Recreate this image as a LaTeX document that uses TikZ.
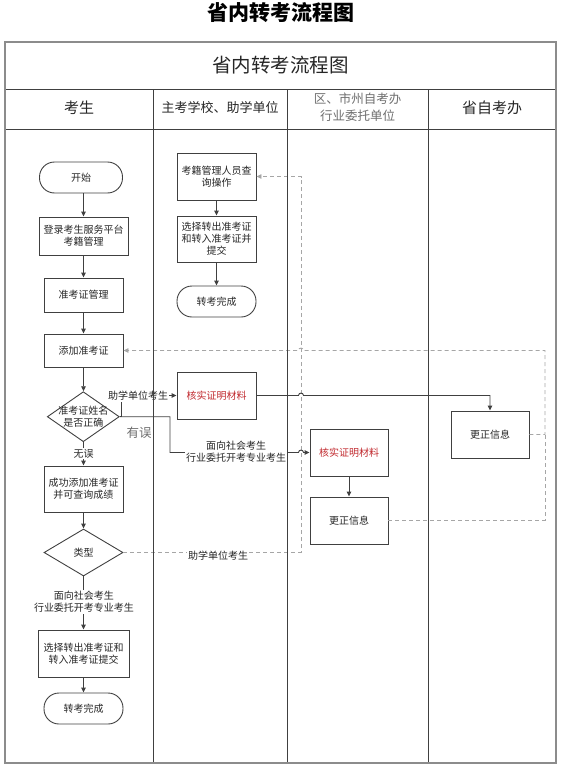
\documentclass[tikz,border=0pt]{standalone}
\usepackage{fontspec}
\setmainfont{Noto Sans CJK SC}
\usetikzlibrary{shapes.geometric,arrows.meta}
\definecolor{lineC}{HTML}{404040}
\definecolor{frameC}{HTML}{8C8C8C}
\definecolor{dashC}{HTML}{A6A6A6}
\definecolor{redT}{HTML}{C0282D}
\definecolor{txtC}{HTML}{262626}
\definecolor{grayT}{HTML}{6E6E6E}
\begin{document}
\begin{tikzpicture}[x=1pt,y=-1pt,
  every node/.style={font=\fontsize{10}{12}\selectfont, text=txtC, align=center},
  procbox/.style={draw=lineC, line width=0.9pt, rectangle, inner sep=0pt},
  termbox/.style={draw=lineC, line width=0.9pt, rectangle, rounded corners=15pt, minimum height=31pt, inner sep=0pt},
  decbox/.style={draw=lineC, line width=0.9pt, diamond, inner sep=0pt},
  flow/.style={draw=lineC, line width=0.9pt, -{Triangle[length=5pt,width=4.5pt]}},
  dline/.style={draw=dashC, line width=0.9pt, dash pattern=on 4pt off 3pt},
  dflow/.style={dline, -{Triangle[length=5pt,width=4.5pt]}, color=dashC},
  lbl/.style={fill=white, inner sep=1pt},
  framec/.style={draw=frameC, line width=1.6pt},
  colline/.style={draw=lineC, line width=0.9pt}
]
\useasboundingbox (0,0) rectangle (561,768);

% titles
\node[font=\fontsize{21}{24}\selectfont\bfseries, text=black] (maintitle) at (280.5,12.5) {省内转考流程图};
\node[font=\fontsize{19.5}{22}\selectfont] (innertitle) at (280.5,65.5) {省内转考流程图};

% headers
\node[font=\fontsize{15}{18}\selectfont] (h1) at (79,108) {考生};
\node[font=\fontsize{13}{16}\selectfont] (h2) at (220,108) {主考学校、助学单位};
\node[font=\fontsize{12.5}{17}\selectfont, text=grayT] (h3) at (357.5,107.5) {区、市州自考办\\行业委托单位};
\node[font=\fontsize{15}{18}\selectfont] (h4) at (492,108) {省自考办};

% column 1
\node[termbox, minimum width=83pt] (start) at (81,177.5) {开始};
\node[procbox, minimum width=89pt, minimum height=38pt] (login) at (83.5,236) {登录考生服务平台\\考籍管理};
\node[procbox, minimum width=79pt, minimum height=34pt] (zkz) at (83.5,295) {准考证管理};
\node[procbox, minimum width=79pt, minimum height=33pt] (add) at (83.5,350.5) {添加准考证};
\node[decbox, minimum width=72pt, minimum height=50pt,
  label={[align=center, font=\fontsize{10}{12}\selectfont, text=txtC]center:准考证姓名\\是否正确}] (d1) at (83.3,416.7) {};
\node[procbox, minimum width=79pt, minimum height=46pt] (succ) at (83.5,489) {成功添加准考证\\并可查询成绩};
\node[decbox, minimum width=79pt, minimum height=47pt] (d2) at (83.5,552.5) {类型};
\node[procbox, minimum width=91pt, minimum height=47pt] (sel) at (83.5,653.5) {选择转出准考证和\\转入准考证提交};
\node[termbox, minimum width=79pt] (fin1) at (83.5,708.5) {转考完成};

% column 2
\node[procbox, minimum width=79pt, minimum height=47pt] (k1) at (216.5,176.5) {考籍管理人员查\\询操作};
\node[procbox, minimum width=79pt, minimum height=46pt] (k2) at (216.5,239) {选择转出准考证\\和转入准考证并\\提交};
\node[termbox, minimum width=79pt] (fin2) at (216.5,301.5) {转考完成};
\node[procbox, minimum width=79pt, minimum height=47pt, text=redT] (v1) at (216.5,395.5) {核实证明材料};

% column 3
\node[procbox, minimum width=78pt, minimum height=47pt, text=redT] (v2) at (349,452.5) {核实证明材料};
\node[procbox, minimum width=78pt, minimum height=47pt] (g2) at (349,520.5) {更正信息};

% column 4
\node[procbox, minimum width=78pt, minimum height=47pt] (g1) at (490,434.5) {更正信息};

% solid connectors column 1
\draw[flow] (start.south -| login.north) -- (login.north);
\draw[flow] (login) -- (zkz);
\draw[flow] (zkz) -- (add);
\draw[flow] (add.south) -- (d1.north -| add.south);
\draw[flow] (d1.south -| succ.north) -- node[lbl, pos=0.5] {无误} (succ.north);
\draw[flow] (succ) -- (d2);
\draw[flow] (d2) -- (sel);
\draw[flow] (sel) -- (fin1);
\node[lbl] (l2) at (84,602) {面向社会考生\\行业委托开考专业考生};

% column 2
\draw[flow] (k1) -- (k2);
\draw[flow] (k2) -- (fin2);

% dashed lines
\draw[dflow] (d2.east) -- (301,552.5) -- (301,176.5) -- (k1.east);
\node[lbl] (l3) at (218,556) {助学单位考生};
\draw[dline] (g2.east) -- (545,520.5) -- (545,434.5);
\draw[dflow] (g1.east) -- (545,434.5) -- (545,350.5) -- (303.5,350.5)
  .. controls (303.5,347.3) and (298.5,347.3) .. (298.5,350.5) -- (add.east);

% branches from diamond 1
\draw[flow] (d1.east) -- (121,416.7) |- (v1.west);
\node[lbl] (l1) at (138,396) {助学单位考生};
\draw[flow] (d1.east) -- (170,416.7) -- (170,452.5) -- (298.5,452.5)
  .. controls (298.5,449.3) and (303.5,449.3) .. (303.5,452.5) -- (v2.west);
\node[lbl] (l4) at (236,452) {面向社会考生\\行业委托开考专业考生};
\node[font=\fontsize{12.5}{14}\selectfont, text=grayT] (err) at (139,433) {有误};

% to province
\draw[flow] (v1.east) -- (298.5,395.5) .. controls (298.5,392.3) and (303.5,392.3) .. (303.5,395.5) -| (g1.north);
\draw[flow] (v2) -- (g2);

% frame (drawn last so lane lines stay visible)
\draw[colline] (5,89) -- (556,89);
\draw[colline] (5,129) -- (556,129);
\draw[colline] (153,89) -- (153,763);
\draw[colline] (287,89) -- (287,763);
\draw[colline] (428,89) -- (428,763);
\draw[framec] (5,42) rectangle (556,763);
\end{tikzpicture}
\end{document}
